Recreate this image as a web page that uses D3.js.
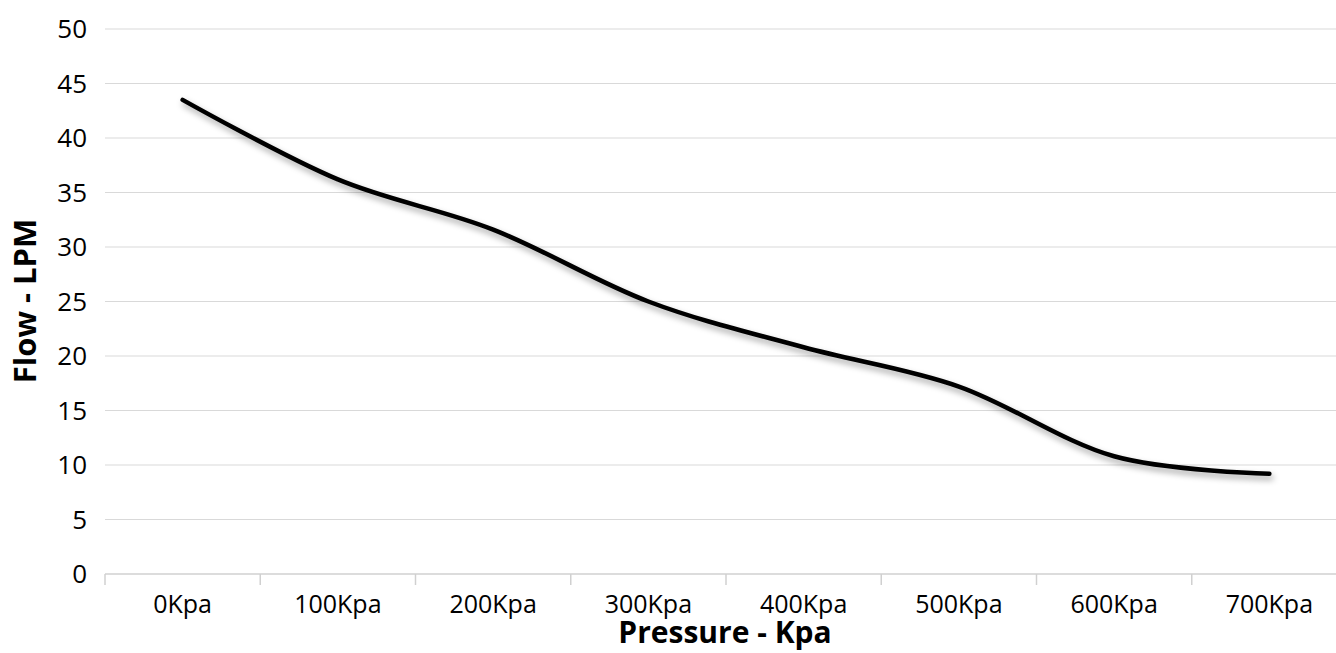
<!DOCTYPE html>
<html>
<head>
<meta charset="utf-8">
<script src="https://cdn.jsdelivr.net/npm/d3@7"></script>
<style>
  body { margin: 0; background: #fff; }
  svg { display: block; font-family: "Open Sans", "Noto Sans", sans-serif; }
</style>
</head>
<body>
<div id="chart"></div>
<script>
var categories = ["0Kpa", "100Kpa", "200Kpa", "300Kpa", "400Kpa", "500Kpa", "600Kpa", "700Kpa"];
var flow = [43.5, 36.2, 31.6, 25.0, 20.8, 17.2, 10.8, 9.2];
var yTicks = [0, 5, 10, 15, 20, 25, 30, 35, 40, 45, 50];

var W = 1336, H = 653;
var plotLeft = 105, plotRight = 1347, plotTop = 29, plotBottom = 574;

var svg = d3.select("#chart")
  .append("svg")
  .attr("width", W)
  .attr("height", H);

var defs = svg.append("defs");
var shadow = defs.append("filter").attr("id", "shadow")
  .attr("x", "-10%").attr("y", "-10%").attr("width", "120%").attr("height", "130%");
shadow.append("feDropShadow")
  .attr("dx", 2).attr("dy", 4).attr("stdDeviation", 3)
  .attr("flood-color", "#000").attr("flood-opacity", 0.35);

var x = d3.scaleBand().domain(categories).range([plotLeft, plotRight]);
var y = d3.scaleLinear().domain([0, 50]).range([plotBottom, plotTop]);

// gridlines
svg.append("g").selectAll("line")
  .data(yTicks.filter(function(d){ return d > 0; }))
  .enter().append("line")
  .attr("x1", plotLeft).attr("x2", W)
  .attr("y1", function(d){ return y(d); })
  .attr("y2", function(d){ return y(d); })
  .attr("stroke", "#d9d9d9")
  .attr("stroke-width", 1);

// y labels
svg.append("g").selectAll("text")
  .data(yTicks).enter().append("text")
  .attr("x", 87)
  .attr("y", function(d){ return y(d); })
  .attr("dy", "0.35em")
  .attr("text-anchor", "end")
  .attr("font-size", 26)
  .attr("fill", "#000")
  .text(function(d){ return d; });

// x axis
var xAxis = svg.append("g");
xAxis.append("line")
  .attr("x1", plotLeft).attr("x2", W)
  .attr("y1", plotBottom).attr("y2", plotBottom)
  .attr("stroke", "#d0d0d0").attr("stroke-width", 1.5);
xAxis.selectAll("line.tick")
  .data(categories).enter().append("line")
  .attr("class", "tick")
  .attr("x1", function(d){ return x(d); })
  .attr("x2", function(d){ return x(d); })
  .attr("y1", plotBottom).attr("y2", plotBottom + 11)
  .attr("stroke", "#d0d0d0").attr("stroke-width", 1.5);
xAxis.selectAll("text")
  .data(categories).enter().append("text")
  .attr("x", function(d){ return x(d) + x.bandwidth() / 2; })
  .attr("y", 613)
  .attr("text-anchor", "middle")
  .attr("font-size", 25)
  .attr("fill", "#000")
  .text(function(d){ return d; });

// axis titles
svg.append("text")
  .attr("x", 725).attr("y", 643)
  .attr("text-anchor", "middle")
  .attr("font-size", 30).attr("font-weight", "bold")
  .attr("fill", "#000")
  .text("Pressure - Kpa");

svg.append("text")
  .attr("transform", "translate(25,301) rotate(-90)")
  .attr("dy", "0.35em")
  .attr("text-anchor", "middle")
  .attr("font-size", 31).attr("font-weight", "bold")
  .attr("fill", "#000")
  .text("Flow - LPM");

// line
var line = d3.line()
  .x(function(d, i){ return x(categories[i]) + x.bandwidth() / 2; })
  .y(function(d){ return y(d); })
  .curve(d3.curveCardinal.tension(0));

svg.append("path")
  .datum(flow)
  .attr("d", line)
  .attr("fill", "none")
  .attr("stroke", "#000")
  .attr("stroke-width", 4.5)
  .attr("stroke-linecap", "round")
  .attr("filter", "url(#shadow)");
</script>
</body>
</html>
